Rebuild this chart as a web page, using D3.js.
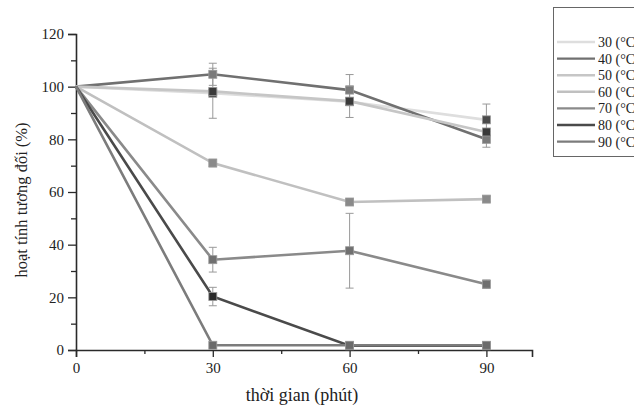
<!DOCTYPE html>
<html><head><meta charset="utf-8">
<script src="https://cdn.jsdelivr.net/npm/d3@7"></script>
<style>body{margin:0;background:#fff}svg{display:block}text{font-family:"Liberation Serif","DejaVu Serif",serif}</style>
</head><body>
<svg id="c" width="634" height="407"></svg>
<script>
const times = [0, 30, 60, 90];
const seriesNames = ["30 (°C)", "40 (°C)", "50 (°C)", "60 (°C)", "70 (°C)", "80 (°C)", "90 (°C)"];
const seriesColors = ["#dedede", "#707070", "#c6c6c6", "#c0c0c0", "#8a8a8a", "#4a4a4a", "#7c7c7c"];
const markerColors = ["#4a4a4a", "#7a7a7a", "#3a3a3a", "#8a8a8a", "#707070", "#2a2a2a", "#6a6a6a"];
const v30 = [100, 97.5, 94.3, 87.4];
const v40 = [100, 104.7, 98.7, 80];
const v50 = [100, 98.2, 94.5, 82.8];
const v60 = [100, 71, 56.2, 57.3];
const v70 = [100, 34.3, 37.7, 25];
const v80 = [100, 20.3, 1.6, 1.6];
const v90 = [100, 1.8, 1.8, 1.8];
const e30 = [0, 9.5, 6, 6];
const e40 = [0, 4.2, 5.9, 3];
const e50 = [0, 1, 1, 1];
const e60 = [0, 1.4, 1, 1];
const e70 = [0, 4.7, 14.2, 1.6];
const e80 = [0, 3.5, 0.5, 0.5];
const e90 = [0, 0.5, 0.5, 0.5];
const allValues = [v30, v40, v50, v60, v70, v80, v90];
const allErrors = [e30, e40, e50, e60, e70, e80, e90];
const xTicks = [0, 30, 60, 90];
const yTicks = [0, 20, 40, 60, 80, 100, 120];
const xLabel = "thời gian (phút)";
const yLabel = "hoạt tính tương đối (%)";

const svg = d3.select("#c");
const x = d3.scaleLinear().domain([0, 100]).range([76, 532]);
const y = d3.scaleLinear().domain([0, 120]).range([350, 34]);

// axes
const xAxis = svg.append("g").attr("transform", "translate(0,350)")
  .call(d3.axisBottom(x).tickValues(xTicks).tickSize(7).tickPadding(5).tickFormat(d3.format("d")));
const xMinor = svg.append("g").attr("transform", "translate(0,350)")
  .call(d3.axisBottom(x).tickValues([15, 45, 75]).tickSize(4).tickFormat(""));
const yAxis = svg.append("g").attr("transform", "translate(76,0)")
  .call(d3.axisLeft(y).tickValues(yTicks).tickSize(8).tickPadding(4));
const yMinor = svg.append("g").attr("transform", "translate(76,0)")
  .call(d3.axisLeft(y).tickValues([10, 30, 50, 70, 90, 110]).tickSize(5).tickFormat(""));
[xAxis, xMinor, yAxis, yMinor].forEach(g => {
  g.selectAll("path").attr("stroke", "#2a2a2a").attr("stroke-width", 1.6);
  g.selectAll("line").attr("stroke", "#2a2a2a").attr("stroke-width", 1.3);
  g.selectAll("text").attr("font-size", 15).attr("fill", "#222").style("font-family", "Liberation Serif, serif");
});
xMinor.select("path").remove();
yMinor.select("path").remove();

// series
const line = d3.line().x((d, i) => x(times[i])).y(d => y(d));
allValues.forEach((vals, s) => {
  const g = svg.append("g");
  g.append("path").attr("d", line(vals)).attr("fill", "none")
    .attr("stroke", seriesColors[s]).attr("stroke-width", 2.6);
});
allValues.forEach((vals, s) => {
  const g = svg.append("g");
  vals.forEach((v, i) => {
    if (i === 0) return;
    const e = allErrors[s][i];
    const cx = x(times[i]);
    if (e > 0.8) {
      g.append("line").attr("x1", cx).attr("x2", cx).attr("y1", y(v + e)).attr("y2", y(v - e))
        .attr("stroke", "#999").attr("stroke-width", 1);
      [v + e, v - e].forEach(t => g.append("line").attr("x1", cx - 4).attr("x2", cx + 4)
        .attr("y1", y(t)).attr("y2", y(t)).attr("stroke", "#999").attr("stroke-width", 1));
    }
  });
});
allValues.forEach((vals, s) => {
  vals.forEach((v, i) => {
    if (i === 0) return;
    svg.append("rect").attr("x", x(times[i]) - 4).attr("y", y(v) - 4).attr("width", 8).attr("height", 8)
      .attr("fill", markerColors[s]).attr("stroke", "#999").attr("stroke-width", 0.8);
  });
});

// labels
svg.append("text").attr("x", 302).attr("y", 401).attr("text-anchor", "middle")
  .attr("font-size", 18).attr("fill", "#222").text(xLabel);
svg.append("text").attr("transform", "translate(27,200) rotate(-90)").attr("text-anchor", "middle")
  .attr("font-size", 16.5).attr("fill", "#222").text(yLabel);

// legend
const lg = svg.append("g");
lg.append("rect").attr("x", 553.5).attr("y", 7.5).attr("width", 100).attr("height", 149)
  .attr("fill", "#fff").attr("stroke", "#666").attr("stroke-width", 1);
seriesNames.forEach((n, s) => {
  const ly = 42 + s * 16.6;
  lg.append("line").attr("x1", 557).attr("x2", 595).attr("y1", ly).attr("y2", ly)
    .attr("stroke", seriesColors[s]).attr("stroke-width", 2.4);
  lg.append("text").attr("x", 598).attr("y", ly + 5).attr("font-size", 14).attr("fill", "#222").text(n);
});
</script>
</body></html>
